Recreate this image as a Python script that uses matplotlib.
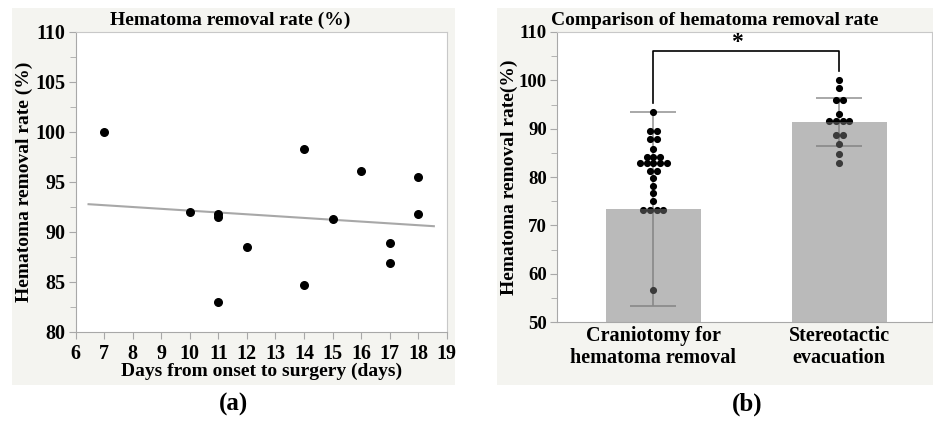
import numpy as np
import matplotlib
matplotlib.use("Agg")
import matplotlib.pyplot as plt
from matplotlib.patches import Rectangle
from matplotlib.ticker import MultipleLocator

plt.rcParams['font.family'] = ['Liberation Serif', 'DejaVu Serif']
plt.rcParams['font.weight'] = 'bold'

# (a) days from onset vs removal rate
days = [7, 10, 11, 11, 11, 12, 14, 14, 15, 16, 17, 17, 18, 18]
rate = [100.0, 92.0, 91.8, 91.5, 83.0, 88.5, 98.3, 84.7, 91.3, 96.1, 88.9, 86.9, 95.5, 91.8]
fit_x = [6.45, 18.55]
fit_y = [92.75, 90.55]

# (b) group comparison
groups = ['Craniotomy for\nhematoma removal', 'Stereotactic\nevacuation']
means = [73.4, 91.45]
sds = [20.1, 4.95]
crani = [93.5, 89.6, 89.6, 87.8, 87.8, 85.8, 84.2, 84.2, 84.2,
         82.8, 82.8, 82.8, 82.8, 82.8, 81.2, 81.2, 79.7, 78.2, 76.7, 75.0,
         73.2, 73.2, 73.2, 73.2, 56.6]
stereo = [100.1, 98.4, 95.9, 95.9, 93.1, 91.6, 91.6, 91.6, 91.6,
          88.7, 88.7, 86.9, 84.7, 83.0]

W, H = 933, 423
fig = plt.figure(figsize=(W / 100, H / 100), dpi=100)

def px(x0, y0, x1, y1):
    return [x0 / W, 1 - y1 / H, (x1 - x0) / W, (y1 - y0) / H]

bg = '#f4f4f0'
for r in (px(12, 8, 455, 385), px(497, 8, 933, 385)):
    fig.patches.append(Rectangle((r[0], r[1]), r[2], r[3], transform=fig.transFigure,
                                 facecolor=bg, edgecolor='none', zorder=-10))

def style(ax, ysize):
    ax.set_facecolor('white')
    for s in ax.spines.values():
        s.set_color('#c8c8c8')
    ax.spines['left'].set_color('#a8a8a8')
    ax.spines['bottom'].set_color('#a8a8a8')
    ax.tick_params(which='both', direction='out', color='#a8a8a8', labelsize=14.5)
    ax.tick_params(axis='y', labelsize=ysize, pad=2.5)
    ax.tick_params(which='major', length=5)
    ax.tick_params(which='minor', length=4)
    for lab in ax.get_xticklabels() + ax.get_yticklabels():
        lab.set_fontweight('bold')

# ---- panel (a)
ax1 = fig.add_axes(px(75.7, 31.7, 446.7, 331.7))
ax1.plot(fit_x, fit_y, color='#a8a8a8', lw=1.5, zorder=2)
ax1.scatter(days, rate, s=30, color='black', zorder=3)
ax1.set_xlim(6, 19)
ax1.set_ylim(80, 110)
ax1.set_xticks(range(6, 20))
ax1.set_yticks(range(80, 111, 5))
ax1.yaxis.set_minor_locator(MultipleLocator(2.5))
style(ax1, 14.5)
ax1.set_xlabel('Days from onset to surgery (days)', fontsize=14, fontweight='bold')
ax1.xaxis.set_label_coords(0.5, -0.104)
ax1.set_ylabel('Hematoma removal rate (%)', fontsize=14, fontweight='bold')
ax1.yaxis.set_label_coords(-0.115, 0.5)
fig.text(230 / W, 1 - 20.5 / H, 'Hematoma removal rate (%)', ha='center', va='center',
         fontsize=14, fontweight='bold')

# ---- panel (b)
ax2 = fig.add_axes(px(557.3, 32, 932.3, 322))
xpos = np.arange(len(groups))
ax2.errorbar(xpos, means, yerr=sds, fmt='none', ecolor='#9a9a9a', elinewidth=1.2,
             capsize=16.5, capthick=1.2, zorder=1.5)
step = 0.036
for i, vals in enumerate([crani, stereo]):
    vals = np.array(vals)
    xs = np.zeros(len(vals))
    for v in np.unique(vals):
        idx = np.where(vals == v)[0]
        n = len(idx)
        xs[idx] = i + (np.arange(n) - (n - 1) / 2) * step
    ax2.scatter(xs, vals, s=17, color='black', zorder=2)
ax2.bar(xpos, [m - 50 for m in means], bottom=50, width=0.51, color='#777777',
        alpha=0.5, zorder=3)
ax2.plot([0, 0, 1, 1], [95.3, 106.1, 106.1, 101.9], color='black', lw=1.2, zorder=4)
ax2.text(0.45, 105.6, '*', ha='center', va='bottom', fontsize=17, fontweight='bold')
ax2.set_xlim(-0.517, 1.5)
ax2.set_ylim(50, 110)
ax2.set_yticks(range(50, 111, 10))
ax2.yaxis.set_minor_locator(MultipleLocator(5))
ax2.set_xticks(xpos)
ax2.set_xticklabels(groups, linespacing=1.1)
style(ax2, 13.5)
ax2.tick_params(axis='x', length=0, pad=3)
ax2.set_ylabel('Hematoma removal rate(%)', fontsize=14, fontweight='bold')
ax2.yaxis.set_label_coords(-0.106, 0.5)
fig.text(715 / W, 1 - 20.5 / H, 'Comparison of hematoma removal rate', ha='center',
         va='center', fontsize=14, fontweight='bold')

fig.text(233 / W, 1 - 404 / H, '(a)', ha='center', va='center', fontsize=18, fontweight='bold')
fig.text(747 / W, 1 - 404 / H, '(b)', ha='center', va='center', fontsize=18, fontweight='bold')

fig.savefig('out.png', dpi=100)
